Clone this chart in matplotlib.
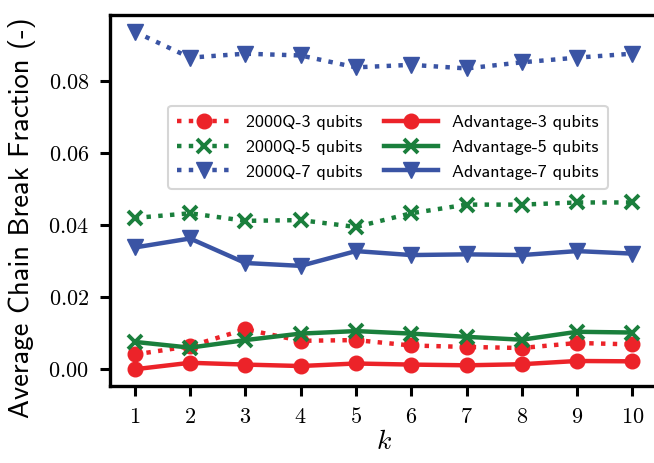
import matplotlib
matplotlib.use("Agg")
import matplotlib.pyplot as plt
from matplotlib.ticker import FuncFormatter

plt.rcParams['mathtext.fontset'] = 'cm'

k = [1, 2, 3, 4, 5, 6, 7, 8, 9, 10]

# 2000Q
q2000_3 = [0.0041, 0.0064, 0.0111, 0.0079, 0.0081, 0.0066, 0.0062, 0.0059, 0.0073, 0.0069]
q2000_5 = [0.0420, 0.0433, 0.0412, 0.0414, 0.0395, 0.0433, 0.0457, 0.0457, 0.0463, 0.0463]
q2000_7 = [0.0937, 0.0865, 0.0876, 0.0871, 0.0838, 0.0845, 0.0835, 0.0852, 0.0865, 0.0876]

# Advantage
adv_3 = [0.0000, 0.0018, 0.0013, 0.0009, 0.0016, 0.0013, 0.0011, 0.0014, 0.0023, 0.0022]
adv_5 = [0.0076, 0.0060, 0.0081, 0.0099, 0.0106, 0.0099, 0.0090, 0.0082, 0.0104, 0.0102]
adv_7 = [0.0338, 0.0363, 0.0295, 0.0287, 0.0328, 0.0317, 0.0319, 0.0317, 0.0328, 0.0321]

red = '#ec2329'
green = '#1a7f3c'
blue = '#3a54a4'

fig = plt.figure(figsize=(6.54, 4.63), dpi=100)
ax = fig.add_axes([0.168, 0.166, 0.837, 0.802])

lw = 3.2
ms = 10.5
ax.plot(k, q2000_3, ':', color=red, marker='o', lw=lw, ms=ms, label='2000Q-3 qubits')
ax.plot(k, q2000_5, ':', color=green, marker='x', lw=lw, ms=ms - 1, mew=2.8, label='2000Q-5 qubits')
ax.plot(k, q2000_7, ':', color=blue, marker='v', lw=lw, ms=ms + 1, label='2000Q-7 qubits')
ax.plot(k, adv_3, '-', color=red, marker='o', lw=lw, ms=ms, label='Advantage-3 qubits')
ax.plot(k, adv_5, '-', color=green, marker='x', lw=lw, ms=ms - 1, mew=2.8, label='Advantage-5 qubits')
ax.plot(k, adv_7, '-', color=blue, marker='v', lw=lw, ms=ms + 1, label='Advantage-7 qubits')

ax.set_xticks(k)
ax.set_yticks([0.0, 0.02, 0.04, 0.06, 0.08])
ax.xaxis.set_major_formatter(FuncFormatter(lambda v, p: r'$%d$' % v))
ax.yaxis.set_major_formatter(FuncFormatter(lambda v, p: r'$%.2f$' % v))
ax.tick_params(labelsize=16, width=2.2, length=7, pad=8)
for s in ax.spines.values():
    s.set_linewidth(2.4)

ax.set_xlabel(r'$k$', fontsize=20, labelpad=0)
ax.set_ylabel('Average Chain Break Fraction (-)', fontsize=20.5,
              family=['cmss10', 'DejaVu Sans'])
ax.yaxis.set_label_coords(-0.135, 0.453)

leg = ax.legend(ncol=2, loc='upper left', bbox_to_anchor=(0.09, 0.78),
                prop={'family': ['cmss10', 'DejaVu Sans'], 'size': 13},
                handlelength=3, columnspacing=1.2, labelspacing=0.5,
                borderpad=0.5, fancybox=True, framealpha=0.8)
leg.get_frame().set_linewidth(1.5)

fig.savefig('out.png', dpi=100)
